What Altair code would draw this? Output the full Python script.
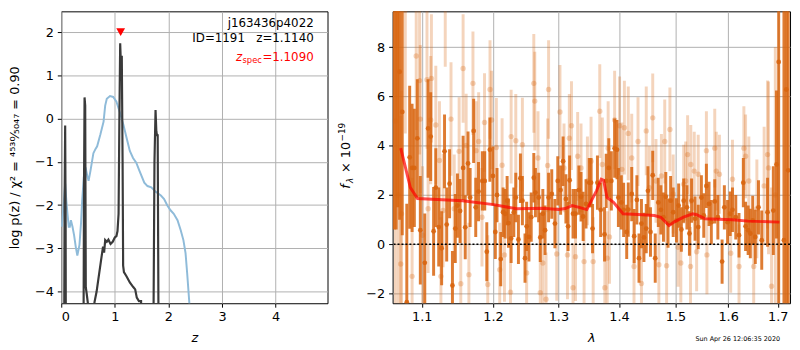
import altair as alt
import pandas as pd

FONT = "DejaVu Sans"
ORANGE = "#d8650f"

# ---------------- left panel data ----------------
pz_z = [0.00, 0.045, 0.062, 0.073, 0.082, 0.09, 0.405, 0.425, 0.435, 0.447, 0.458, 0.475, 0.50, 0.52,
        0.59, 0.62, 0.66, 0.70, 0.74, 0.78, 0.80, 0.82, 0.85, 0.88, 0.92, 0.96, 1.00, 1.03, 1.05, 1.07,
        1.085, 1.10, 1.115, 1.13, 1.145, 1.155, 1.17, 1.22, 1.28, 1.34, 1.38, 1.41, 1.45, 1.49, 1.52,
        1.70, 1.74, 1.76, 1.775, 1.79, 1.80, 1.83, 4.97]
pz_logp = [-9, -9, -2.0, -0.16, -2.5, -9, -9, -1.5, 0.49, 0.3, -3.9, -4.05, -4.3, -9,
           -9, -4.25, -4.0, -3.65, -3.3, -2.96, -3.1, -2.81, -2.85, -2.8, -2.9, -2.85, -2.75, -2.72, -2.6, -2.2,
           0.0, 1.74, 1.2, 1.45, -1.0, -3.4, -3.55, -3.65, -3.79, -3.89, -3.95, -4.14, -4.22, -4.22, -9,
           -9, -1.0, 0.2, -0.3, -0.4, -0.36, -9, -9]

chi_z = [0.01, 0.04, 0.073, 0.095, 0.116, 0.14, 0.16, 0.18, 0.21, 0.24, 0.27, 0.30, 0.34, 0.37, 0.39,
         0.43, 0.46, 0.49, 0.51, 0.545, 0.60, 0.64, 0.67, 0.73, 0.79, 0.82, 0.85, 0.91, 0.97, 1.03, 1.09,
         1.16, 1.22, 1.28, 1.34, 1.40, 1.46, 1.55, 1.61, 1.68, 1.77, 1.86, 1.92, 1.98, 2.04, 2.10, 2.17,
         2.23, 2.28, 2.32, 2.35, 2.39, 2.42]
chi_val = [-2.5, -2.05, -1.5, -1.9, -2.2, -2.5, -2.5, -2.35, -2.5, -2.7, -2.96, -3.17, -2.92, -2.4, -1.9,
           -1.21, -1.17, -1.35, -1.44, -1.21, -0.8, -0.7, -0.64, -0.37, -0.07, 0.3, 0.46, 0.52, 0.5, 0.39, 0.16,
           -0.14, -0.45, -0.75, -0.91, -1.02, -1.21, -1.48, -1.56, -1.59, -1.70, -1.78, -1.86, -2.01, -2.12, -2.2, -2.35,
           -2.58, -2.81, -3.11, -3.57, -4.25, -6.0]

zspec_z = [1.109]
zspec_y = [2.0]

# ---------------- right panel data ----------------
dark_lam = [1.0635, 1.0660, 1.0680, 1.0705, 1.0740, 1.0800, 1.0838, 1.0870, 1.0900, 1.0940, 1.0980, 1.1040,
            1.1085, 1.1120, 1.1160, 1.1190, 1.1230, 1.1270, 1.1310, 1.1340, 1.1380, 1.1420, 1.1460, 1.1490,
            1.1527, 1.1570, 1.1600, 1.1640, 1.1670, 1.1720, 1.1750, 1.1790, 1.1845, 1.1880, 1.1910, 1.1955,
            1.2000, 1.2035, 1.2060, 1.2115, 1.2150, 1.2180, 1.2210, 1.2230, 1.2270, 1.2310, 1.2340, 1.2380,
            1.2410, 1.2440, 1.2480, 1.2505, 1.2540, 1.2575, 1.2615, 1.2640, 1.2690, 1.2715, 1.2755, 1.2790,
            1.2845, 1.2895, 1.2945, 1.2990, 1.3035, 1.3075, 1.3120, 1.3155, 1.3180, 1.3235, 1.3275, 1.3330,
            1.3365, 1.3400, 1.3447, 1.3500, 1.3530, 1.3555, 1.3636, 1.3690, 1.3755, 1.3783, 1.3827, 1.3870,
            1.3926, 1.3966, 1.3990, 1.4040, 1.4080, 1.4133, 1.4160, 1.4220, 1.4263, 1.4310, 1.4347, 1.4390,
            1.4434, 1.4475, 1.4505, 1.4550, 1.4590, 1.4635, 1.4690, 1.4736, 1.4783, 1.4825, 1.4866, 1.4913,
            1.4960, 1.5020, 1.5060, 1.5110, 1.5153, 1.5213, 1.5260, 1.5300, 1.5365, 1.5425, 1.5485, 1.5530,
            1.5580, 1.5630, 1.5674, 1.5740, 1.5800, 1.5882, 1.5926, 1.5989, 1.6040, 1.6085, 1.6150, 1.6214,
            1.6300, 1.6345, 1.6396, 1.6440, 1.6488, 1.6540, 1.6605, 1.6671, 1.6790, 1.6909, 1.6975, 1.7020,
            1.7130, 1.7180, 1.7220]
dark_flux = [9.6, 9.6, 9.5, 7.0, 5.37, -2.35, 3.53, 3.1, 3.1, 4.3, 0.57, -0.75,
             4.7, 4.37, 0.53, 2.3, 0.7, -0.16, 3.77, 0.8, 2.46, -1.67, 0.64, 1.57,
             1.35, 3.1, 0.69, 3.28, 1.9, 4.6, 1.5, 2.14, 2.57, 2.57, -0.3, 3.84,
             2.77, 0.5, 2.0, -0.6, 1.3, 1.24, 1.77, 0.86, 0.24, 1.3, 1.9, 0.2,
             2.68, 1.77, -0.56, 0.73, 0.3, 1.1, 2.7, 2.1, 1.9, 0.28, 1.24, 0.57,
             1.9, 2.04, 0.84, 2.57, 2.2, 3.37, 1.84, 0.73, 2.6, 1.24, 1.24, 2.2,
             1.93, 1.13, 1.64, 2.5, 2.5, 0.64, 2.5, 1.4, 0.4, 2.57, 3.1, 2.57,
             3.9, 3.84, 1.9, 1.7, 1.4, 0.5, 1.41, 2.04, 0.33, 1.8, -0.56, 0.84,
             0.28, 0.64, 2.17, 0.5, 2.8, -0.56, 1.7, 1.4, 1.1, 1.93, 0.86, 1.77,
             1.3, 0.97, 1.57, 0.6, 1.77, 1.5, 0.44, 1.77, 1.04, 0.7, 1.9, 1.17,
             2.37, 1.64, 0.9, 1.74, 1.1, -0.7, 1.5, 0.9, 1.24, 1.4, 1.1, 0.37,
             2.5, 0.73, 0.57, 0.44, 0.97, 0.3, 1.5, 0.17, 1.3, 1.37, 3.24, 7.4,
             0.17, 6.28, 3.0]
dark_err = [9, 9, 8, 6, 5, 4, 2.9, 2.6, 2.4, 2.4, 2.2, 2.0,
            2.0, 1.8, 1.8, 1.6, 1.6, 1.5, 1.5, 1.5, 1.4, 1.4, 1.4, 1.3,
            1.3, 1.3, 1.3, 1.3, 1.2, 1.3, 1.2, 1.2, 1.2, 1.2, 1.2, 1.3,
            1.2, 1.1, 1.1, 1.1, 1.0, 1.0, 1.0, 1.0, 1.0, 1.0, 1.0, 1.0,
            1.0, 1.0, 1.0, 1.0, 1.0, 1.0, 1.0, 1.0, 1.0, 1.0, 1.0, 1.0,
            1.0, 1.0, 1.0, 1.0, 1.0, 1.0, 1.0, 1.0, 1.0, 1.0, 1.0, 1.0,
            1.0, 1.0, 1.0, 1.0, 1.0, 1.0, 1.1, 1.1, 1.1, 1.1, 1.2, 1.2,
            1.2, 1.2, 1.2, 1.1, 1.1, 1.1, 1.1, 1.1, 1.1, 1.0, 1.0, 1.0,
            1.0, 1.0, 1.0, 1.0, 1.0, 1.0, 1.0, 1.0, 1.0, 1.0, 1.0, 1.0,
            1.0, 0.9, 0.9, 0.9, 0.9, 0.9, 0.9, 0.9, 0.9, 0.9, 0.9, 0.9,
            0.9, 0.9, 0.9, 0.9, 0.9, 0.9, 0.9, 0.9, 0.9, 0.9, 0.9, 0.9,
            1.0, 1.0, 1.0, 1.0, 1.0, 1.1, 1.1, 1.2, 1.4, 1.8, 3.0, 10,
            10, 10, 10]

light_lam = [1.0650, 1.0690, 1.0720, 1.0730, 1.0780, 1.0870, 1.0925, 1.0970, 1.0980, 1.1010, 1.1070, 1.1085,
             1.1120, 1.1130, 1.1190, 1.1240, 1.1260, 1.1290, 1.1320, 1.1400, 1.1445, 1.1514, 1.1537, 1.1570,
             1.1613, 1.1652, 1.1710, 1.1755, 1.1792, 1.1840, 1.1877, 1.1924, 1.1957, 1.1980, 1.2050, 1.2100,
             1.2135, 1.2170, 1.2260, 1.2270, 1.2340, 1.2440, 1.2505, 1.2615, 1.2630, 1.2680, 1.2715, 1.2755,
             1.2805, 1.2830, 1.2845, 1.2974, 1.3025, 1.3090, 1.3145, 1.3175, 1.3210, 1.3235, 1.3275, 1.3310,
             1.3365, 1.3415, 1.3470, 1.3530, 1.3565, 1.3675, 1.3718, 1.3760, 1.3800, 1.3816, 1.3838, 1.3926,
             1.4010, 1.4050, 1.4093, 1.4160, 1.4220, 1.4260, 1.4330, 1.4390, 1.4475, 1.4530, 1.4590, 1.4648,
             1.4700, 1.4746, 1.4806, 1.4840, 1.4900, 1.4960, 1.5050, 1.5100, 1.5153, 1.5190, 1.5226, 1.5280,
             1.5285, 1.5350, 1.5395, 1.5425, 1.5580, 1.5590, 1.5740, 1.5770, 1.5830, 1.6050, 1.6085, 1.6214,
             1.6311, 1.6345, 1.6410, 1.6508, 1.6572, 1.6720, 1.6790, 1.6810, 1.6872, 1.6950]
light_flux = [5.0, 2.0, -0.8, 1.24, 9.5, -1.3, 7.64, 6.64, 5.08, 0.37, 6.68, 1.44,
              5.04, 6.73, 4.84, 3.4, -1.3, 1.37, 9.7, 5.08, 1.44, 3.77, -1.6, 7.13,
              4.01, -1.23, 6.53, 3.8, 4.17, 1.1, 4.94, -1.63, 6.28, 5.04, 3.93, -1.03,
              3.21, -0.43, -1.94, 4.37, 4.2, 4.04, -1.16, 6.53, 5.81, 3.5, -1.96, -0.76,
              -2.23, 3.2, 6.28, -0.39, 5.37, 3.1, -0.43, 4.3, 4.81, -1.76, -0.5, 3.57,
              3.1, -0.7, 2.57, 3.37, -0.7, 5.4, 3.24, -1.76, -0.56, 3.9, 0.3, 5.04,
              4.81, 3.04, 4.73, 4.5, 3.5, -0.9, 4.17, -1.59, 4.6, 2.3, 5.13, 2.57,
              -0.83, 2.77, 4.17, -0.87, 4.66, 2.04, -0.12, -0.76, 2.44, 2.57, 3.64, -0.9,
              3.24, 2.97, -0.3, 2.84, 3.8, -0.43, 3.9, 2.97, 2.84, -0.36, 2.64, -0.9,
              3.9, 3.57, 2.57, -0.9, 1.44, 2.37, 3.64, 3.1, -1.7, 2.0]
light_err = [9, 8, 6, 5, 5, 4, 3, 3, 3, 2.8, 2.8, 2.6,
             2.6, 2.6, 2.4, 2.4, 2.4, 2.3, 2.5, 2.3, 2.2, 2.2, 2.2, 2.2,
             2.1, 2.1, 2.1, 2.0, 2.0, 2.0, 2.0, 2.0, 2.0, 2.0, 2.0, 1.9,
             1.9, 1.9, 1.9, 1.9, 1.9, 1.9, 1.9, 2.0, 2.0, 1.9, 1.9, 1.9,
             1.9, 1.9, 2.0, 1.9, 1.9, 1.8, 1.8, 1.8, 1.8, 1.8, 1.8, 1.8,
             1.8, 1.8, 1.8, 1.8, 1.8, 1.9, 1.9, 1.9, 1.9, 1.9, 1.9, 2.0,
             2.0, 1.9, 1.9, 1.9, 1.8, 1.8, 1.8, 1.8, 1.8, 1.7, 1.8, 1.7,
             1.7, 1.7, 1.7, 1.7, 1.7, 1.6, 1.6, 1.6, 1.6, 1.6, 1.6, 1.6,
             1.6, 1.6, 1.6, 1.6, 1.6, 1.6, 1.6, 1.6, 1.6, 1.6, 1.6, 1.7,
             1.7, 1.7, 1.8, 1.8, 2.0, 2.4, 3.0, 3.5, 4, 6]

model_lam = [1.072, 1.0847, 1.0942, 1.1561, 1.2013, 1.235, 1.275, 1.300, 1.311, 1.322, 1.3335, 1.346,
             1.362, 1.370, 1.374, 1.3796, 1.3907, 1.407, 1.433, 1.462, 1.4735, 1.4884, 1.4973, 1.515,
             1.532, 1.5395, 1.555, 1.6077, 1.64, 1.7036]
model_flux = [3.9, 2.3, 1.86, 1.77, 1.61, 1.44, 1.46, 1.41, 1.45, 1.57, 1.5, 1.41,
              2.17, 2.64, 2.6, 1.9, 1.7, 1.24, 1.21, 1.17, 1.1, 0.76, 0.9, 1.1,
              1.24, 1.2, 1.04, 1.0, 0.94, 0.9]

# ---------------- common helpers ----------------
W1, W2, H = 270, 403, 296


def label(txt, x, y, size, color="black", align="right", style="normal", angle=0, baseline="alphabetic"):
    return alt.Chart(pd.DataFrame({"t": [txt]})).mark_text(
        font=FONT, fontSize=size, color=color, align=align, baseline=baseline,
        fontStyle=style, angle=angle
    ).encode(text="t:N", x=alt.value(x), y=alt.value(y))


axis_common = dict(
    grid=True, gridColor="#b0b0b0", gridWidth=1, domain=False,
    tickColor="black", tickSize=4, tickWidth=1, labelColor="black",
    labelFont=FONT, labelFontSize=13, labelPadding=4,
    titleFont=FONT, titleFontSize=13, titleColor="black", titleFontWeight="normal",
)

# ---------------- left panel ----------------
xL = alt.X("z:Q", scale=alt.Scale(domain=[0, 4.97], nice=False, zero=False),
           axis=alt.Axis(values=[0, 1, 2, 3, 4], format="d", title="z", titleFontStyle="italic",
                         titlePadding=8, minExtent=21, maxExtent=21, **axis_common))
yL = alt.Y("v:Q", scale=alt.Scale(domain=[-4.27, 2.48], nice=False, zero=False),
           axis=alt.Axis(values=[-4, -3, -2, -1, 0, 1, 2],
                         title="log p(z) / χ² = ⁴⁵³⁰⁄₅₀₄₇ = 0.90",
                         titlePadding=12, minExtent=28, maxExtent=28, **axis_common))

pz_df = pd.DataFrame({"z": pz_z, "v": pz_logp})
chi_df = pd.DataFrame({"z": chi_z, "v": chi_val})
mk_df = pd.DataFrame({"z": zspec_z, "v": zspec_y})

blue = alt.Chart(chi_df).mark_line(color="#8fbbd9", strokeWidth=2, clip=True).encode(x=xL, y=yL, order="z:Q")
dark = alt.Chart(pz_df).mark_line(color="#3a3a3a", strokeWidth=2.2, clip=True).encode(x=xL, y=yL, order="z:Q")
tri = alt.Chart(mk_df).mark_point(shape="triangle-down", filled=True, color="red", size=80,
                                  opacity=1).encode(x=xL, y=yL)

left = alt.layer(
    blue, dark, tri,
    label("j163436p4022", 256, 15.5, 12),
    label("ID=1191\u00a0\u00a0\u00a0z=1.1140", 256, 31, 12),
    label("=1.1090", 256, 50, 12, color="red"),
    label("spec", 203.5, 52.5, 8.5, color="red"),
    label("z", 183.5, 50, 12, color="red", style="italic"),
).properties(width=W1, height=H)

# ---------------- right panel ----------------
xR = alt.X("lam:Q", scale=alt.Scale(type="log", domain=[1.0614, 1.7258], nice=False, zero=False),
           axis=alt.Axis(values=[1.1, 1.2, 1.3, 1.4, 1.5, 1.6, 1.7], format=".1f", title="λ",
                         titleFontStyle="italic", titlePadding=8, minExtent=21, maxExtent=21, **axis_common))
yscaleR = alt.Scale(domain=[-2.39, 9.45], nice=False, zero=False)
yaxisR = alt.Axis(values=[-2, 0, 2, 4, 6, 8], title=None, minExtent=28, maxExtent=28, **axis_common)

light_df = pd.DataFrame({"lam": light_lam, "flux": light_flux, "err": light_err})
dark_df = pd.DataFrame({"lam": dark_lam, "flux": dark_flux, "err": dark_err})
model_df = pd.DataFrame({"lam": model_lam, "flux": model_flux})


def errbars(df, opacity):
    return alt.Chart(df).transform_calculate(
        lo="datum.flux - datum.err", hi="datum.flux + datum.err"
    ).mark_rule(color=ORANGE, strokeWidth=3, opacity=opacity, clip=True).encode(
        x=xR, y=alt.Y("lo:Q", scale=yscaleR, axis=yaxisR), y2="hi:Q")


def dots(df, opacity, size):
    return alt.Chart(df).mark_circle(color=ORANGE, size=size, opacity=opacity, clip=True).encode(
        x=xR, y=alt.Y("flux:Q", scale=yscaleR, axis=yaxisR))


model = alt.Chart(model_df).mark_line(color="red", strokeWidth=3, opacity=0.7, clip=True).encode(
    x=xR, y=alt.Y("flux:Q", scale=yscaleR, axis=yaxisR), order="lam:Q")
zero = alt.Chart(pd.DataFrame({"a": [0]})).mark_rule(color="black", strokeDash=[2, 2], strokeWidth=1.5).encode(
    y=alt.Y(datum=0, scale=yscaleR, axis=yaxisR))

right = alt.layer(
    errbars(light_df, 0.28), dots(light_df, 0.28, 30),
    errbars(dark_df, 0.85), dots(dark_df, 0.9, 24),
    model, zero,
    label("f", -43, 180, 13, align="left", style="italic", angle=270),
    label("λ", -40, 174, 9, align="left", style="italic", angle=270),
    label("× 10", -43, 164, 13, align="left", angle=270),
    label("−19", -48, 132, 9, align="left", angle=270),
    label("Sun Apr 26 12:06:35 2020", 350, 332, 6.5, align="center", baseline="middle"),
).properties(width=W2, height=H)

chart = alt.hconcat(left, right, spacing=9).properties(
    padding={"left": 0, "top": 0, "right": 0, "bottom": 0}
).configure_view(stroke="black", strokeWidth=1)

chart.save("out.html", embed_options={"renderer": "svg", "actions": False})
